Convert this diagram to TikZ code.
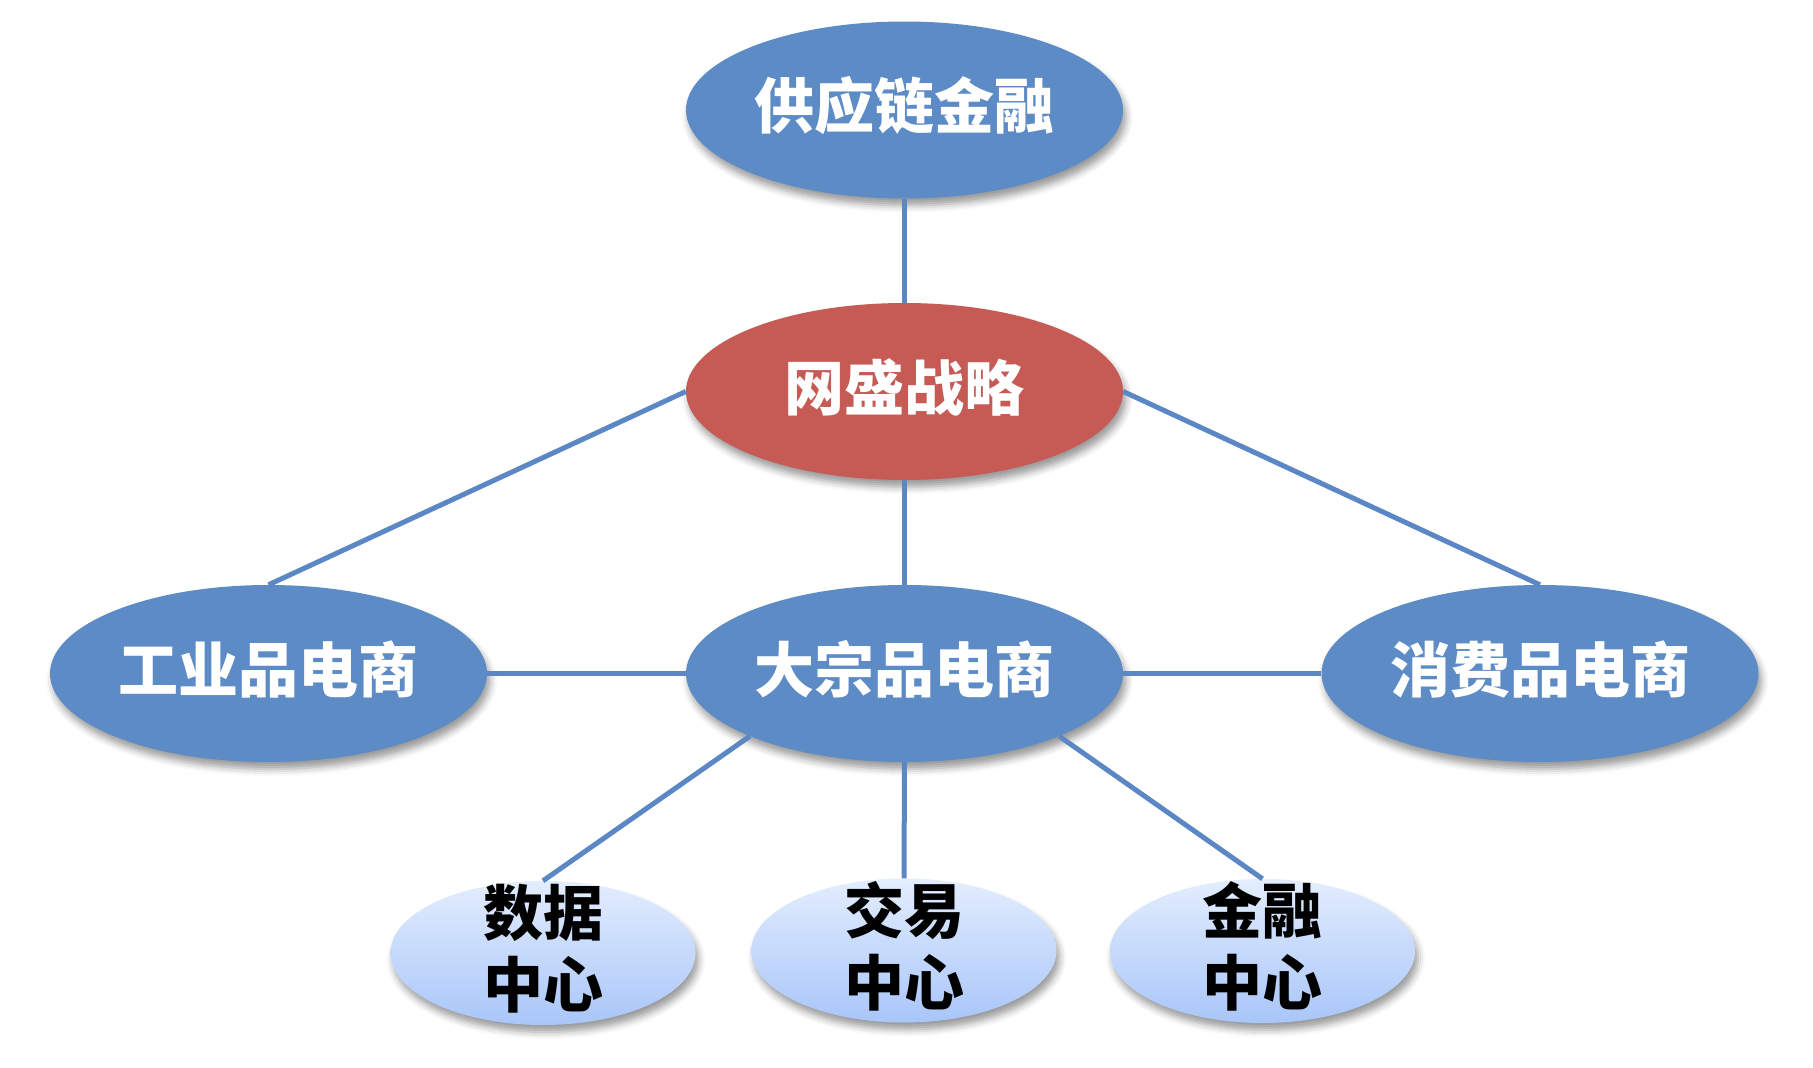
\documentclass[tikz,border=0pt]{standalone}
\usepackage{fontspec}
\setmainfont{Noto Sans CJK SC}
\usetikzlibrary{shapes.geometric,shadows.blur}
\definecolor{ellblue}{HTML}{5C8BC6}
\definecolor{ellred}{HTML}{C65B56}
\definecolor{linkblue}{HTML}{5B87C5}
\definecolor{lighttop}{HTML}{E3EDFE}
\definecolor{lightbot}{HTML}{A9C6F9}
\begin{document}
\begin{tikzpicture}[x=1pt,y=-1pt,
  shadowed/.style={blur shadow={shadow xshift=3pt, shadow yshift=-7pt, shadow blur radius=7pt, shadow opacity=40}},
  bigell/.style={ellipse, draw=none, fill=ellblue, minimum width=437pt, minimum height=177pt, inner sep=0pt, shadowed},
  redell/.style={bigell, fill=ellred},
  smallell/.style={ellipse, draw=none, top color=lighttop, bottom color=lightbot, minimum width=305pt, minimum height=144pt, inner sep=0pt, shadowed},
  bigtxt/.style={text=white, font=\fontsize{60}{72}\selectfont\bfseries, inner sep=0pt, yshift=4pt},
  smalltxt/.style={text=black, font=\fontsize{60}{72}\selectfont\bfseries, align=center, inner sep=0pt, yshift=4.5pt},
  link/.style={draw=linkblue, line width=5pt}]
\useasboundingbox (0,0) rectangle (1813,1068);
\node[bigell, label={[bigtxt]center:供应链金融}] (gy) at (904.5,110) {};
\node[redell, label={[bigtxt]center:网盛战略}] (ws) at (904.5,391.5) {};
\node[bigell, label={[bigtxt]center:工业品电商}] (gyp) at (268.5,673.5) {};
\node[bigell, label={[bigtxt]center:大宗品电商}] (dz) at (904.5,673.5) {};
\node[bigell, label={[bigtxt]center:消费品电商}] (xf) at (1540,673.5) {};
\node[smallell, label={[smalltxt]center:数据\\中心}] (sj) at (543,953) {};
\node[smallell, label={[smalltxt]center:交易\\中心}] (jy) at (904,950.5) {};
\node[smallell, label={[smalltxt]center:金融\\中心}] (jr) at (1262.5,951) {};
\draw[link] (gy) -- (ws);
\draw[link] (ws.west) -- (gyp.north);
\draw[link] (ws.east) -- (xf.north);
\draw[link] (ws) -- (dz);
\draw[link] (gyp) -- (dz);
\draw[link] (dz) -- (xf);
\draw[link] (dz.south west) -- (sj.north);
\draw[link] (dz.south) -- (jy.north);
\draw[link] (dz.south east) -- (jr.north);
\end{tikzpicture}
\end{document}
